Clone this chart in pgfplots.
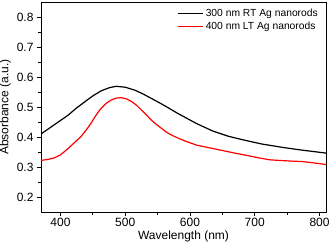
\documentclass[border=0pt]{standalone}
\usepackage{fontspec}
\setmainfont{Liberation Sans}
\usepackage{pgfplots}
\pgfplotsset{compat=1.18}
\begin{document}
\begin{tikzpicture}
\path[use as bounding box] (-41pt,-37pt) rectangle (290pt,212pt);
\begin{axis}[
  at={(0pt,0pt)}, anchor=origin,
  scale only axis, width=285pt, height=210pt,
  xmin=370, xmax=810, ymin=0.15, ymax=0.85,
  xtick={400,500,600,700,800},
  ytick={0.2,0.3,0.4,0.5,0.6,0.7,0.8},
  yticklabel style={/pgf/number format/fixed,/pgf/number format/precision=1,/pgf/number format/fixed zerofill},
  minor tick num=1,
  tick align=outside, xtick pos=bottom, ytick pos=left,
  major tick length=4pt, minor tick length=2.5pt,
  tick style={black, line width=0.7pt},
  axis line style={line width=0.9pt},
  /pgf/number format/assume math mode=true,
  ticklabel style={font=\fontsize{12}{13}\selectfont},
  xticklabel style={yshift=1pt},
  xlabel={Wavelength (nm)}, ylabel={Absorbance (a.u.)},
  label style={font=\fontsize{12}{13}\selectfont},
  xlabel style={yshift=3pt},
  ylabel style={yshift=-1pt},
  legend style={draw=none, fill=none, at={(1,1)}, anchor=north east, xshift=-3pt, yshift=-3pt, font=\fontsize{10.3}{12}\selectfont, row sep=0pt},
  legend cell align=left,
  legend image post style={xscale=1.5},
]
\addplot[black, line width=1.2pt] coordinates {
(370,0.410) (380,0.425) (390,0.440) (400,0.455) (412,0.473) (425,0.497) (438,0.518) (450,0.537) (463,0.554) (475,0.564) (486,0.569) (500,0.566) (515,0.556) (528,0.543) (540,0.529) (553,0.514) (566,0.498) (580,0.480) (592,0.466) (610,0.445) (635,0.420) (660,0.402) (687,0.388) (710,0.377) (738,0.367) (770,0.357) (808,0.347) (810,0.346)
};
\addlegendentry{300 nm RT Ag nanorods}
\addplot[red, line width=1.2pt] coordinates {
(370,0.322) (380,0.325) (390,0.330) (400,0.340) (412,0.362) (425,0.388) (432,0.402) (440,0.424) (447,0.445) (453,0.466) (458,0.482) (463,0.496) (471,0.513) (479,0.524) (487,0.530) (494,0.531) (502,0.527) (510,0.518) (518,0.505) (525,0.490) (533,0.473) (540,0.457) (548,0.442) (556,0.429) (563,0.417) (571,0.407) (582,0.396) (592,0.387) (610,0.373) (630,0.364) (650,0.355) (670,0.346) (687,0.339) (705,0.331) (723,0.324) (745,0.321) (774,0.318) (790,0.314) (808,0.309) (810,0.308)
};
\addlegendentry{400 nm LT Ag nanorods}
\end{axis}
\end{tikzpicture}
\end{document}
